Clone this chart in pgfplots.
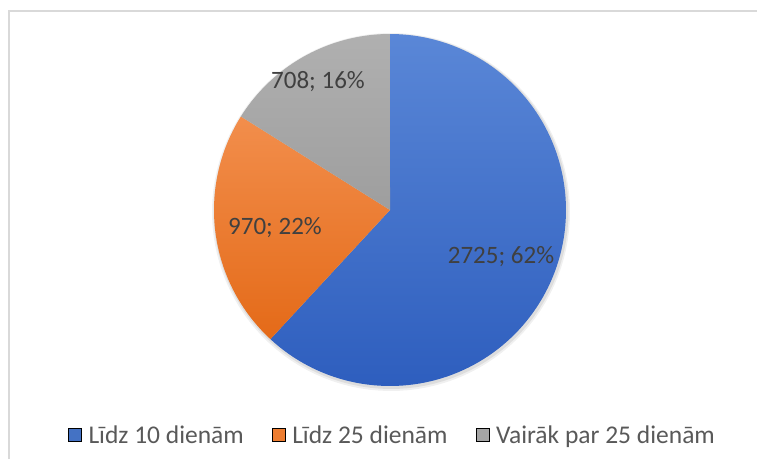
\documentclass[border=0pt]{standalone}
\usepackage{pgfplots}
\usepackage{pgfplotstable}
\pgfplotsset{compat=1.18}
\usepackage{fontspec}
\setmainfont{Carlito}
\definecolor{blueT}{HTML}{5A87D7}
\definecolor{blueB}{HTML}{2E5EBE}
\definecolor{oranT}{HTML}{F28E4C}
\definecolor{oranB}{HTML}{E46A18}
\definecolor{grayT}{HTML}{B0B0B0}
\definecolor{grayB}{HTML}{9E9E9E}
\definecolor{lblue}{HTML}{4472C4}
\definecolor{loran}{HTML}{ED7D31}
\definecolor{lgray}{HTML}{A5A5A5}
\definecolor{labtext}{HTML}{404040}
\definecolor{legtext}{HTML}{595959}
\definecolor{frame}{HTML}{D9D9D9}

\pgfplotstableread{
label value
A 2725
B 970
C 708
}\piedata
\pgfplotstablegetelem{0}{value}\of\piedata \let\va\pgfplotsretval
\pgfplotstablegetelem{1}{value}\of\piedata \let\vb\pgfplotsretval
\pgfplotstablegetelem{2}{value}\of\piedata \let\vc\pgfplotsretval
\pgfmathsetmacro{\total}{\va+\vb+\vc}
\pgfmathsetmacro{\fa}{\va/\total}
\pgfmathsetmacro{\fb}{\vb/\total}
\pgfmathsetmacro{\fc}{\vc/\total}
\pgfmathsetmacro{\aA}{90}
\pgfmathsetmacro{\aB}{90-360*\fa}
\pgfmathsetmacro{\aC}{\aB-360*\fb}
\pgfmathsetmacro{\aD}{\aC-360*\fc}
\def\cx{390}\def\cy{249}\def\R{176}

\begin{document}%
\begin{tikzpicture}
\begin{axis}[
  width=758pt, height=459pt, scale only axis,
  xmin=0, xmax=758, ymin=0, ymax=459,
  hide axis, clip=false,
  legend columns=3,
  legend image code/.code={\fill[#1] (0pt,-6.5pt) rectangle (13pt,6.5pt);},
  legend style={draw=none, fill=none, at={(axis cs:392.5,24)}, anchor=center,
    font=\fontsize{25.5}{30}\selectfont, text=legtext,
    inner sep=0pt,
    /tikz/every odd column/.append style={column sep=5pt},
    /tikz/every even column/.append style={column sep=26pt},
    nodes={inner sep=2pt}},
]
\coordinate (bbSW) at (axis cs:0,0);
\coordinate (bbNE) at (axis cs:758,459);
% frame
\addplot[draw=frame, line width=1.6pt, forget plot] coordinates {(8.8,0) (8.8,448) (757.2,448)};
% shadow
\addplot[draw=none, fill=black, fill opacity=0.06, domain=0:360, samples=120, forget plot]
  ({\cx+1+(\R+3)*cos(x)},{\cy-2+(\R+3)*sin(x)}) -- cycle;
\addplot[draw=none, fill=black, fill opacity=0.08, domain=0:360, samples=120, forget plot]
  ({\cx+1+(\R+1.5)*cos(x)},{\cy-1.5+(\R+1.5)*sin(x)}) -- cycle;
% slices
\addplot[draw=none, top color=blueT, bottom color=blueB, domain=\aB:\aA, samples=120, forget plot]
  ({\cx+\R*cos(x)},{\cy+\R*sin(x)}) -- (axis cs:\cx,\cy) -- cycle;
\addplot[draw=none, top color=oranT, bottom color=oranB, domain=\aC:\aB, samples=60, forget plot]
  ({\cx+\R*cos(x)},{\cy+\R*sin(x)}) -- (axis cs:\cx,\cy) -- cycle;
\addplot[draw=none, top color=grayT, bottom color=grayB, domain=\aD:\aC, samples=60, forget plot]
  ({\cx+\R*cos(x)},{\cy+\R*sin(x)}) -- (axis cs:\cx,\cy) -- cycle;
% labels
\node[text=labtext, font=\fontsize{25}{30}\selectfont] at (axis cs:501,202) {2725; 62\%};
\node[text=labtext, font=\fontsize{25}{30}\selectfont] at (axis cs:275,231) {970; 22\%};
\node[text=labtext, font=\fontsize{25}{30}\selectfont] at (axis cs:318,377) {708; 16\%};
% legend
\addlegendimage{fill=lblue}
\addlegendentry{Līdz 10 dienām}
\addlegendimage{fill=loran}
\addlegendentry{Līdz 25 dienām}
\addlegendimage{fill=lgray}
\addlegendentry{Vairāk par 25 dienām}
\end{axis}
\pgfresetboundingbox
\path (bbSW) rectangle (bbNE);
\end{tikzpicture}%
\end{document}
